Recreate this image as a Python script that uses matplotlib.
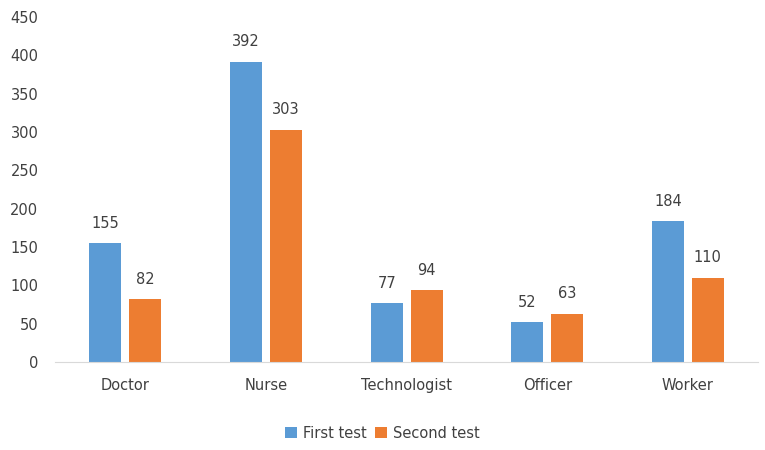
import numpy as np
import matplotlib.pyplot as plt

categories = ["Doctor", "Nurse", "Technologist", "Officer", "Worker"]
first_test = [155, 392, 77, 52, 184]
second_test = [82, 303, 94, 63, 110]

blue = "#5B9BD5"
orange = "#ED7D31"
text_color = "#404040"

plt.rcParams["font.family"] = "DejaVu Sans"
plt.rcParams["font.size"] = 10.5

fig = plt.figure(figsize=(7.65, 4.5), dpi=100)
ax = fig.add_axes([0.072, 0.196, 0.919, 0.766])

x = np.arange(len(categories))
w = 0.228
off = 0.142
b1 = ax.bar(x - off, first_test, w, color=blue, label="First test")
b2 = ax.bar(x + off, second_test, w, color=orange, label="Second test")

# value labels above bars
for bars in (b1, b2):
    for r in bars:
        ax.text(r.get_x() + r.get_width() / 2, r.get_height() + 16, str(int(r.get_height())),
                ha="center", va="bottom", color=text_color)

ax.set_xlim(-0.5, 4.5)
ax.set_ylim(0, 450)
ax.set_yticks(range(0, 451, 50))
ax.set_xticks(x)
ax.set_xticklabels(categories)
ax.tick_params(axis="both", length=0, colors=text_color, labelsize=10.5)
ax.tick_params(axis="x", pad=12)
ax.tick_params(axis="y", pad=12)
for s in ["top", "right", "left"]:
    ax.spines[s].set_visible(False)
ax.spines["bottom"].set_color("#D9D9D9")

fig.legend(loc="center", bbox_to_anchor=(0.5, 0.037), ncol=2, frameon=False,
           handlelength=0.8, handleheight=0.8, handletextpad=0.4, columnspacing=0.6,
           labelcolor=text_color)

fig.savefig("out.png", dpi=100)
